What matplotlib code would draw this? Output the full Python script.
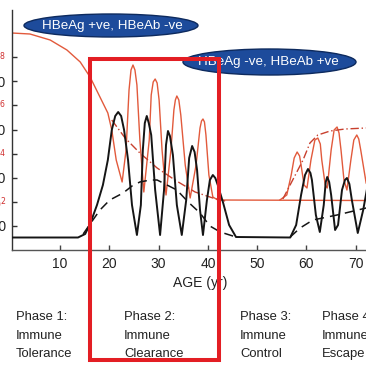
import matplotlib
matplotlib.use("Agg")
import matplotlib.pyplot as plt
from matplotlib.patches import Ellipse, Rectangle

plt.rcParams['font.family'] = ['Liberation Sans', 'DejaVu Sans']

# ---------------- data (age in years, level in chart units) ----------------
alt_age = [0.2, 13.65, 15.1, 16.1, 17.5, 18.7, 19.7, 20.5, 21.2, 21.8, 22.4, 23.0, 23.8, 24.6, 25.6,
           26.4, 26.8, 27.2, 27.6, 28.0, 28.5, 29.3, 30.3, 31.1, 31.5, 31.9, 32.3, 32.9, 33.7, 34.7,
           35.6, 36.2, 36.8, 37.3, 37.8, 38.4, 39.0, 39.8, 40.4, 41.0, 41.5, 42.0, 43.1, 44.3, 45.7,
           56.7, 57.9, 58.9, 59.7, 60.3, 60.8, 61.1, 61.9, 62.7, 63.5, 63.9, 64.2, 64.6, 65.0, 65.8,
           66.4, 67.2, 67.8, 68.2, 68.7, 69.2, 70.4, 71.5, 72.6]
alt_val = [12.5, 12.5, 16, 26, 45, 65, 90, 120, 134, 138, 134, 120, 90, 45, 15,
           45, 100, 127, 134, 127, 115, 60, 15, 60, 105, 119, 114, 95, 45, 15,
           50, 92, 104, 98, 80, 40, 15, 50, 70, 75, 72, 65, 47, 25, 13,
           12.5, 25, 55, 75, 81, 77, 70, 35, 18, 45, 68, 73, 68, 55, 20,
           25, 60, 70, 72, 66, 50, 17, 40, 70]

hbeab_age = [14.7, 16.1, 18.1, 20.1, 22.8, 24.6, 26.2, 28.3, 29.7, 31.7, 33.7, 36.0, 38.4, 40.4, 42.5, 45.7]
hbeab_val = [16, 26, 40, 50, 57, 64, 68, 70, 70, 65, 60, 48, 37, 24, 18, 13]
hbeab4_age = [56.7, 58.7, 61.3, 66.2, 72.1]
hbeab4_val = [13, 22, 30, 35, 42]

dna_age = [0.2, 3.9, 8.0, 11.4, 14.1, 16.1, 18.1, 19.7, 20.5, 21.4, 22.6, 23.4, 24.0, 24.4, 24.8,
           25.2, 25.6, 26.2, 27.0, 28.1, 28.5, 28.9, 29.3, 29.7, 30.1, 30.7, 31.5, 32.5, 33.1, 33.4,
           33.7, 34.1, 34.5, 35.4, 36.4, 37.6, 38.4, 38.7, 39.0, 39.3, 39.6, 40.2, 41.0, 42.0, 72.1]
dna_val = [217, 216, 210, 200, 188, 173, 153, 137, 120, 90, 68, 100, 160, 180, 185,
           180, 165, 110, 58, 110, 155, 168, 171, 167, 150, 100, 55, 100, 140, 150,
           154, 150, 135, 85, 52, 85, 122, 129, 131, 128, 115, 75, 53, 50, 49.5]

dna4_age = [54.6, 56.0, 56.9, 57.5, 58.1, 58.6, 58.9, 59.5, 60.1, 60.9, 61.7, 62.3, 62.8, 63.1, 63.8,
            64.2, 65.0, 65.6, 66.2, 66.6, 67.0, 67.6, 68.2, 69.0, 69.6, 70.2, 70.6, 71.0, 72.1]
dna4_val = [50, 55, 75, 92, 98, 94, 85, 65, 62, 90, 110, 112, 106, 90, 65,
            62, 100, 120, 123, 117, 100, 70, 60, 90, 110, 115, 111, 100, 67]

trend2_age = [20.5, 23.2, 26.2, 29.7, 33.3, 37.4, 41.0, 43.5]
trend2_val = [130, 112, 97, 82, 70, 58, 52, 49]
trend4_age = [55.2, 57.2, 59.3, 60.7, 62.3, 64.8, 67.8, 72.1]
trend4_val = [51, 70, 90, 107, 115, 119, 121, 122]

x_ticks = [10, 20, 30, 40, 50, 60, 70]
y_ticks = [24.1, 48.2, 72.3, 96.4, 120.5, 144.6, 168.7, 192.8]
y_labels = ["100", "$10^2$", "200", "$10^4$", "300", "$10^6$", "400", "$10^8$"]
y_label_colors = ["#222222", "#d03030"] * 4

phase_titles = ["Phase 1:", "Phase 2:", "Phase 3:", "Phase 4:"]
phase_line2 = ["Immune", "Immune", "Immune", "Immune"]
phase_line3 = ["Tolerance", "Clearance", "Control", "Escape"]
badge_left = "HBeAg +ve, HBeAb -ve"
badge_right = "HBeAg -ve, HBeAb +ve"

# ---------------- figure ----------------
W = H = 366
fig = plt.figure(figsize=(W / 100, H / 100), dpi=100)
fig.patch.set_facecolor("white")


def fx(px):
    return px / W


def fy(py):
    return 1 - py / H


ax = fig.add_axes([fx(12), fy(250), 354 / W, 240 / H])
ax.set_xlim(0.26, 72.07)
ax.set_ylim(0, 240)
ax.set_facecolor("none")

red = "#e25a3c"
ax.plot(dna_age, dna_val, color=red, lw=1.0, zorder=2)
ax.plot(dna4_age, dna4_val, color=red, lw=1.0, zorder=2)
ax.plot(trend2_age, trend2_val, color="#c8402e", lw=1.0, ls=(0, (6, 2, 1, 2)), zorder=2)
ax.plot(trend4_age, trend4_val, color="#c8402e", lw=1.0, ls=(0, (6, 2, 1, 2)), zorder=2)

ax.plot(alt_age, alt_val, color="#151515", lw=1.4, zorder=3, solid_joinstyle="round")
ax.plot(hbeab_age, hbeab_val, color="#151515", lw=1.1, ls=(0, (6, 4)), zorder=3)
ax.plot(hbeab4_age, hbeab4_val, color="#151515", lw=1.1, ls=(0, (6, 4)), zorder=3)

for s in ["top", "right"]:
    ax.spines[s].set_visible(False)
ax.spines["left"].set_color("#333333")
ax.spines["bottom"].set_color("#555555")
ax.spines["left"].set_linewidth(1.0)
ax.spines["bottom"].set_linewidth(1.0)

ax.set_xticks(x_ticks)
ax.set_xticklabels([str(t) for t in x_ticks])
ax.tick_params(axis="x", direction="in", length=3.5, width=1, color="#444444",
               labelsize=10, pad=5, labelcolor="#222222")
ax.set_yticks(y_ticks)
ax.set_yticklabels(y_labels)
ax.tick_params(axis="y", direction="in", length=3.6, width=1, color="#333333",
               labelsize=10, pad=4.3)
for lab, c in zip(ax.get_yticklabels(), y_label_colors):
    lab.set_color(c)
    if c != "#222222":
        lab.set_fontsize(8)

fig.text(fx(200), fy(283), "AGE (yr)", fontsize=10, color="#222222",
         ha="center", va="center")

# phase labels
phase_x = [16, 124, 240, 322]
for xp, t1, t2, t3 in zip(phase_x, phase_titles, phase_line2, phase_line3):
    fig.text(fx(xp), fy(317), t1, fontsize=9.4, color="#222222", ha="left", va="center")
    fig.text(fx(xp), fy(336), t2, fontsize=9.4, color="#222222", ha="left", va="center")
    fig.text(fx(xp), fy(354), t3, fontsize=9.4, color="#222222", ha="left", va="center")

# badges
e1 = Ellipse((fx(111), fy(25.5)), 174 / W, 23 / H, transform=fig.transFigure,
             facecolor="#1d4b9b", edgecolor="#0d2a5e", lw=1.0, zorder=5)
fig.add_artist(e1)
fig.text(fx(112), fy(25.5), badge_left, fontsize=9.6, color="white",
         ha="center", va="center", zorder=6)
e2 = Ellipse((fx(269.5), fy(62)), 173 / W, 26 / H, transform=fig.transFigure,
             facecolor="#1d4b9b", edgecolor="#0d2a5e", lw=1.0, zorder=5)
fig.add_artist(e2)
fig.text(fx(268.5), fy(62), badge_right, fontsize=9.6, color="white",
         ha="center", va="center", zorder=6)

# red highlight box
box = Rectangle((fx(90), fy(360)), 129 / W, 301 / H, transform=fig.transFigure,
                fill=False, edgecolor="#e31e24", lw=2.9, zorder=10)
fig.add_artist(box)

fig.savefig("out.png", dpi=100, facecolor="white")
